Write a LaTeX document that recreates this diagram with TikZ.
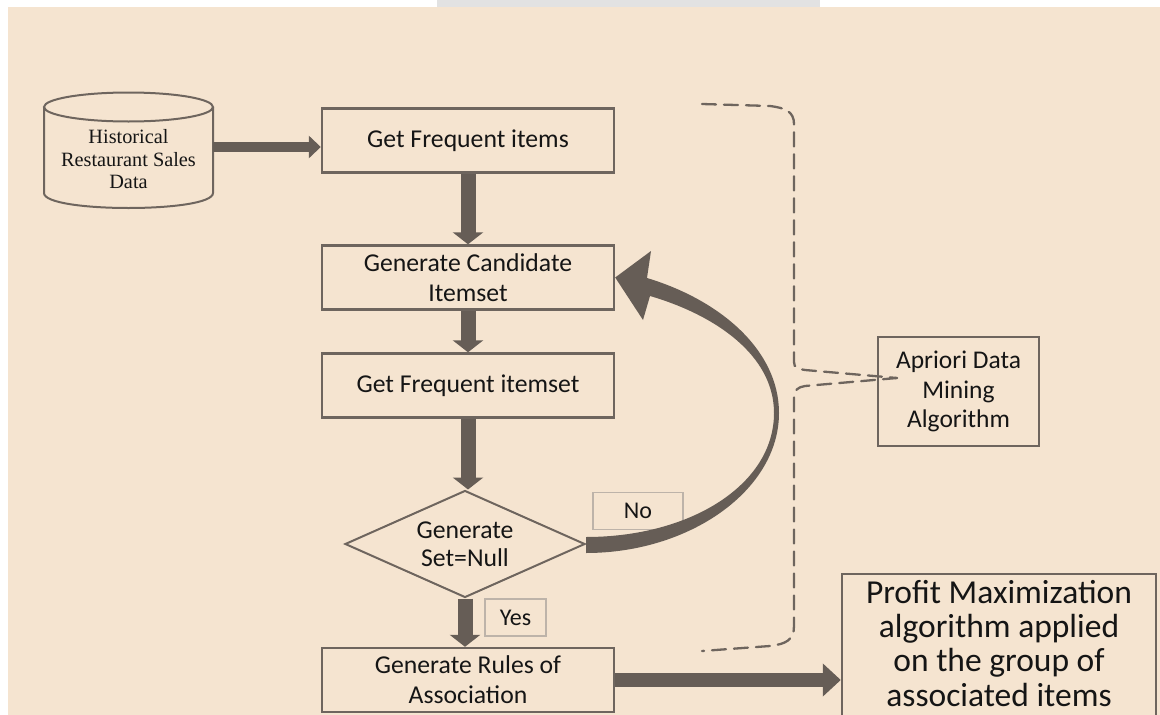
\documentclass[tikz,border=0pt]{standalone}
\usepackage{fontspec}
\setmainfont{Carlito}
\newfontfamily\timesf{Liberation Serif}
\usetikzlibrary{arrows.meta,shapes.geometric,calc}
\definecolor{bgc}{HTML}{F5E4D0}
\definecolor{linec}{HTML}{6E655E}
\definecolor{arrc}{HTML}{665D56}
\definecolor{tagc}{HTML}{BDB3A9}
\definecolor{txtc}{HTML}{151515}
\definecolor{topgray}{HTML}{E2E2E2}

\begin{document}
\begin{tikzpicture}[x=1pt,y=-1pt,
  stepbox/.style={draw=linec, line width=2.4pt, minimum width=292pt, minimum height=64pt,
    inner sep=2pt, align=center, text=txtc, font=\fontsize{25.7}{30}\selectfont},
  tag/.style={draw=tagc, line width=1.1pt, inner sep=0pt, text=txtc,
    font=\fontsize{24}{28}\selectfont},
  vflow/.style={arrc, line width=15pt, -{Triangle[width=30pt,length=12pt]}},
  hflowthin/.style={arrc, line width=10pt, -{Triangle[width=22pt,length=12pt]}},
  hflowwide/.style={arrc, line width=14pt, -{Triangle[width=32pt,length=18pt]}},
  brace/.style={linec, line width=2.3pt, dash pattern=on 14pt off 8pt, line cap=round}
]
\useasboundingbox (0,0) rectangle (1160,715);
% page background
\fill[white] (0,0) rectangle (1160,715);
\fill[bgc] (8,7) rectangle (1160,715);
\fill[topgray] (437,0) rectangle (820,7);

% data store (cylinder)
\draw[linec, line width=2pt] (44,107) -- (44,193) .. controls (44,213) and (213,213) .. (213,193) -- (213,107);
\draw[linec, line width=2pt] (128.5,107) ellipse [x radius=84.5, y radius=14.5];
\node[font=\timesf\fontsize{20.3}{22.5}\selectfont, align=center, text=txtc,
  minimum width=169pt, inner sep=0pt] (db) at (128.5,159.5) {Historical\\Restaurant Sales\\Data};

% process steps
\node[stepbox] (b1) at (468,140.5) {Get Frequent items};
\node[stepbox] (b2) at (468,277.5) {Generate Candidate\\Itemset};
\node[stepbox] (b3) at (468,385.5) {Get Frequent itemset};
\node[diamond, draw=linec, line width=2pt, aspect=2.24, minimum width=240pt, minimum height=107pt,
  inner sep=0pt, align=center, text=txtc, font=\fontsize{25.7}{28}\selectfont] (dia) at (465,544) {Generate\\Set=Null};
\node[stepbox] (b4) at (468,680) {Generate Rules of\\Association};
% result box: its frame runs on past the lower page edge
\node[minimum width=314pt, minimum height=138pt, anchor=north, outer sep=1.2pt,
  inner sep=2pt, align=center, text=txtc, font=\fontsize{33.5}{34.3}\selectfont] (b5) at (999,573)
  {Profit Maximization\\algorithm applied\\on the group of\\associated items};
\draw[linec, line width=2.4pt] ([shift={(1.2pt,-1.2pt)}]b5.north west) rectangle ([shift={(-1.2pt,-20pt)}]b5.south east);
\node[stepbox, minimum width=161pt, minimum height=109pt, font=\fontsize{25.5}{29.5}\selectfont] (apr) at (958.5,391.5)
  {Apriori Data\\Mining\\Algorithm};

% decision labels
\node[tag, minimum width=90pt, minimum height=37pt] (no) at (638,511) {No};
\node[tag, minimum width=61pt, minimum height=37pt] (yes) at (515.5,617.5) {Yes};

% flow arrows
\draw[hflowthin] ([yshift=12.5pt]db.east) -- ([yshift=12.5pt]db.east -| b1.west);
\draw[vflow] (b1.south) -- (b2.north);
\draw[vflow] (b2.south) -- (b3.north);
\draw[vflow] (b3.south) -- (b3.south |- dia.north);
\draw[vflow] (dia.south) -- (dia.south |- b4.north);
\draw[hflowwide] (b4.east) -- (b4.east -| b5.west);

% loop back: "No" branch returns to candidate generation
\fill[arrc] ([yshift=-9pt]dia.east) .. controls (690,553) and (779,490) .. (779,413)
  .. controls (779,350) and (720,300) .. (647,278) -- (651,251) -- (b2.east)
  -- (643,320) -- (650,296) .. controls (715,315) and (774,355) .. (774,413)
  .. controls (774,485) and (690,537) .. ([yshift=7pt]dia.east) -- cycle;

% bracket grouping the Apriori steps
\coordinate (cusp) at (897,378);
\draw[brace] (702,104) -- (770,106) .. controls (786,108) and (794,112) .. (794,124) -- (794,362)
  .. controls (794,368) and (798,369) .. (805,370) -- (cusp);
\draw[brace] (cusp) -- (805,386) .. controls (798,387) and (794,390) .. (794,398) -- (794,626)
  .. controls (794,640) and (786,644) .. (770,646) -- (702,651);
\end{tikzpicture}
\end{document}
